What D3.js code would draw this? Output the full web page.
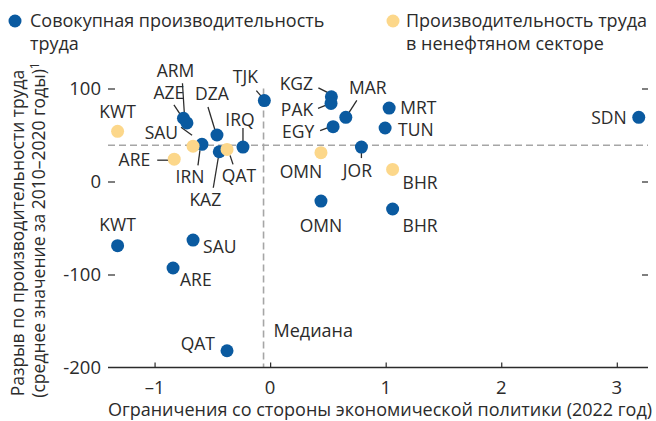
<!DOCTYPE html>
<html>
<head>
<meta charset="utf-8">
<script src="https://cdn.jsdelivr.net/npm/d3@7"></script>
<style>
  body { margin: 0; background: #fff; }
  svg text { font-family: "Open Sans", "Noto Sans", sans-serif; fill: #2b2b2b; }
</style>
</head>
<body>
<div id="chart"></div>
<script>
// total labour productivity
var totalCodes = ["TJK", "ARM", "AZE", "DZA", "IRN", "KAZ", "IRQ", "KGZ", "PAK", "MAR", "EGY",
                  "MRT", "TUN", "JOR", "OMN", "BHR", "SDN", "KWT", "SAU", "ARE", "QAT"]
var totalX = [-0.05, -0.75, -0.72, -0.46, -0.59, -0.44, -0.235, 0.53, 0.527, 0.655, 0.545,
              1.03, 0.995, 0.79, 0.44, 1.06, 3.19, -1.32, -0.667, -0.84, -0.373]
var totalY = [87, 68, 63, 50, 40, 32, 37, 91, 84, 69, 59,
              79, 57.5, 37, -21, -29.6, 69, -69, -63, -93, -182]

// non-oil labour productivity
var nonOilCodes = ["KWT", "SAU", "ARE", "QAT", "OMN", "BHR"]
var nonOilX = [-1.32, -0.667, -0.83, -0.373, 0.44, 1.06]
var nonOilY = [54, 38, 24, 34.5, 31, 13]

var medianX = -0.057
var medianY = 39

var xTicks = [-1, 0, 1, 2, 3]
var xTickLabels = ["–1", "0", "1", "2", "3"]
var yTicks = [100, 0, -100, -200]
var yTickLabels = ["100", "0", "-100", "-200"]

var legendLabels = [["Совокупная производительность", "труда"],
                    ["Производительность труда", "в ненефтяном секторе"]]
var xTitle = "Ограничения со стороны экономической политики (2022 год)"
var yTitle1 = "Разрыв по производительности труда"
var yTitle2 = "(среднее значение за 2010–2020 годы)"
var medianLabel = "Медиана"

// label placement (pixel offsets from dot), layout only
var totalLayout = {
    TJK: {dx: -19, dy: -24, l: [-8, -10, -2, -3]},
    ARM: {dx: -8, dy: -47, l: [-1, -35, 1, -3]},
    AZE: {dx: -18, dy: -30, l: [-13, -18, -5, -6]},
    DZA: {dx: -5, dy: -41, l: [-9, -28, -2, -5]},
    IRN: {dx: -12, dy: 33, l: [-2, 6, -4, 21]},
    KAZ: {dx: -14, dy: 48, l: [-1, 6, -6, 36]},
    IRQ: {dx: -3, dy: -27, l: [0, -19, 0, -6]},
    KGZ: {dx: -35, dy: -13, l: [-13, -9, -3, -4]},
    PAK: {dx: -34, dy: 6, l: [-13, 5, -3, 1]},
    MAR: {dx: 22, dy: -29, l: [11, -17, 2, -3]},
    EGY: {dx: -35, dy: 5, l: [-13, 4, -5, 1]},
    MRT: {dx: 11, dy: 0, a: "start"},
    TUN: {dx: 13, dy: 2, a: "start"},
    JOR: {dx: -4, dy: 24, l: [0, 4, 0, 11]},
    OMN: {dx: 0, dy: 25},
    BHR: {dx: 10, dy: 17, a: "start"},
    SDN: {dx: -12, dy: 1, a: "end"},
    KWT: {dx: 0, dy: -21},
    SAU: {dx: 10, dy: 7, a: "start"},
    ARE: {dx: 7, dy: 12, a: "start"},
    QAT: {dx: -12, dy: -7, a: "end"}
}
var nonOilLayout = {
    KWT: {dx: 0, dy: -19},
    SAU: {dx: -15, dy: -13, a: "end", l: [-12, -19, -1, -11]},
    ARE: {dx: -24, dy: 1, a: "end", l: [-17, 1, -4, 1]},
    QAT: {dx: 12, dy: 26, l: [3, 6, 6, 15]},
    OMN: {dx: -20, dy: 19},
    BHR: {dx: 10, dy: 13, a: "start"}
}

var blue = "#0a5aa0"
var yellow = "#fcd78a"

init_chart()

function init_chart() {
    var width = 656, height = 421

    var svg = d3.select("#chart")
        .append("svg")
        .attr("width", width)
        .attr("height", height)

    var x = d3.scaleLinear().domain([-1.403, 3.27]).range([108, 648])
    var y = d3.scaleLinear().domain([-200, 130]).range([367.5, 60.6])

    var total = totalCodes.map(function (c, i) { return {code: c, x: totalX[i], y: totalY[i]} })
    var nonOil = nonOilCodes.map(function (c, i) { return {code: c, x: nonOilX[i], y: nonOilY[i]} })

    // median lines
    svg.append("line")
        .attr("x1", 108).attr("x2", 648)
        .attr("y1", y(medianY)).attr("y2", y(medianY))
        .attr("stroke", "#a6a6a6").attr("stroke-width", 1.6)
        .attr("stroke-dasharray", "7,4")
    svg.append("line")
        .attr("x1", x(medianX)).attr("x2", x(medianX))
        .attr("y1", y(100)).attr("y2", y(-200))
        .attr("stroke", "#a6a6a6").attr("stroke-width", 1.6)
        .attr("stroke-dasharray", "7,4")
    svg.append("text")
        .attr("x", x(medianX) + 10).attr("y", 337)
        .style("font-size", "18px")
        .text(medianLabel)

    // X axis
    var xAxis = svg.append("g")
        .attr("transform", "translate(0," + y(-200) + ")")
        .call(d3.axisTop(x).tickValues(xTicks).tickSize(5).tickFormat(""))
    xAxis.select(".domain").attr("d", "M108,0H648").attr("stroke", "#2b2b2b").attr("stroke-width", 1.3)
    xAxis.selectAll(".tick line").attr("stroke", "#2b2b2b").attr("stroke-width", 1.2)
    svg.selectAll(".xlab")
        .data(xTicks)
        .enter()
        .append("text")
        .attr("x", function (d) { return x(d) })
        .attr("y", 394)
        .attr("text-anchor", "middle")
        .style("font-size", "18.5px")
        .text(function (d, i) { return xTickLabels[i] })

    // Y axis ticks, left labels and right tick marks
    var yAxis = svg.append("g")
        .attr("transform", "translate(108,0)")
        .call(d3.axisRight(y).tickValues(yTicks.slice(0, 3)).tickSize(7).tickFormat(""))
    yAxis.select(".domain").remove()
    yAxis.selectAll(".tick line").attr("stroke", "#2b2b2b").attr("stroke-width", 1.2)
    var yAxisR = svg.append("g")
        .attr("transform", "translate(648,0)")
        .call(d3.axisLeft(y).tickValues(yTicks.slice(0, 3)).tickSize(6).tickFormat(""))
    yAxisR.select(".domain").remove()
    yAxisR.selectAll(".tick line").attr("stroke", "#2b2b2b").attr("stroke-width", 1.2)
    svg.selectAll(".ylab")
        .data(yTicks)
        .enter()
        .append("text")
        .attr("x", 101)
        .attr("y", function (d) { return y(d) })
        .attr("dy", "0.35em")
        .attr("text-anchor", "end")
        .style("font-size", "18.5px")
        .text(function (d, i) { return yTickLabels[i] })

    // axis titles
    svg.append("text")
        .attr("x", 380).attr("y", 416)
        .attr("text-anchor", "middle")
        .style("font-size", "18px")
        .attr("fill", "#444")
        .text(xTitle)
    svg.append("text")
        .attr("transform", "translate(24,233) rotate(-90)")
        .attr("text-anchor", "middle")
        .style("font-size", "17.5px")
        .text(yTitle1)
    var t2 = svg.append("text")
        .attr("transform", "translate(45,230) rotate(-90)")
        .attr("text-anchor", "middle")
        .style("font-size", "17.5px")
        .text(yTitle2)
    t2.append("tspan").attr("dy", "-0.5em").style("font-size", "12px").text("1")

    // leaders and labels
    function draw_labels(data, layout, cls) {
        data.forEach(function (d) {
            var p = layout[d.code]
            var cx = x(d.x), cy = y(d.y)
            if (p.l) {
                svg.append("line")
                    .attr("x1", cx + p.l[0]).attr("y1", cy + p.l[1])
                    .attr("x2", cx + p.l[2]).attr("y2", cy + p.l[3])
                    .attr("stroke", "#2b2b2b").attr("stroke-width", 1.3)
            }
            svg.append("text")
                .attr("class", cls)
                .attr("x", cx + p.dx).attr("y", cy + p.dy)
                .attr("dy", "0.35em")
                .attr("text-anchor", p.a || "middle")
                .style("font-size", "17.5px")
                .text(d.code)
        })
    }
    draw_labels(total, totalLayout, "lab-total")
    draw_labels(nonOil, nonOilLayout, "lab-nonoil")

    // dots
    svg.append("g")
        .selectAll("circle")
        .data(total)
        .enter()
        .append("circle")
        .attr("cx", function (d) { return x(d.x) })
        .attr("cy", function (d) { return y(d.y) })
        .attr("r", 6.5)
        .style("fill", blue)
    svg.append("g")
        .selectAll("circle")
        .data(nonOil)
        .enter()
        .append("circle")
        .attr("cx", function (d) { return x(d.x) })
        .attr("cy", function (d) { return y(d.y) })
        .attr("r", 6.5)
        .style("fill", yellow)

    // legend
    var legend = [{color: blue, x: 15, tx: 30, lines: legendLabels[0]},
                  {color: yellow, x: 393, tx: 406, lines: legendLabels[1]}]
    legend.forEach(function (l) {
        svg.append("circle").attr("cx", l.x).attr("cy", 21).attr("r", 6.5).style("fill", l.color)
        var t = svg.append("text")
            .attr("x", l.tx).attr("y", 27)
            .style("font-size", "18px")
        l.lines.forEach(function (s, i) {
            t.append("tspan").attr("x", l.tx).attr("dy", i ? 23 : 0).text(s)
        })
    })
}
</script>
</body>
</html>
